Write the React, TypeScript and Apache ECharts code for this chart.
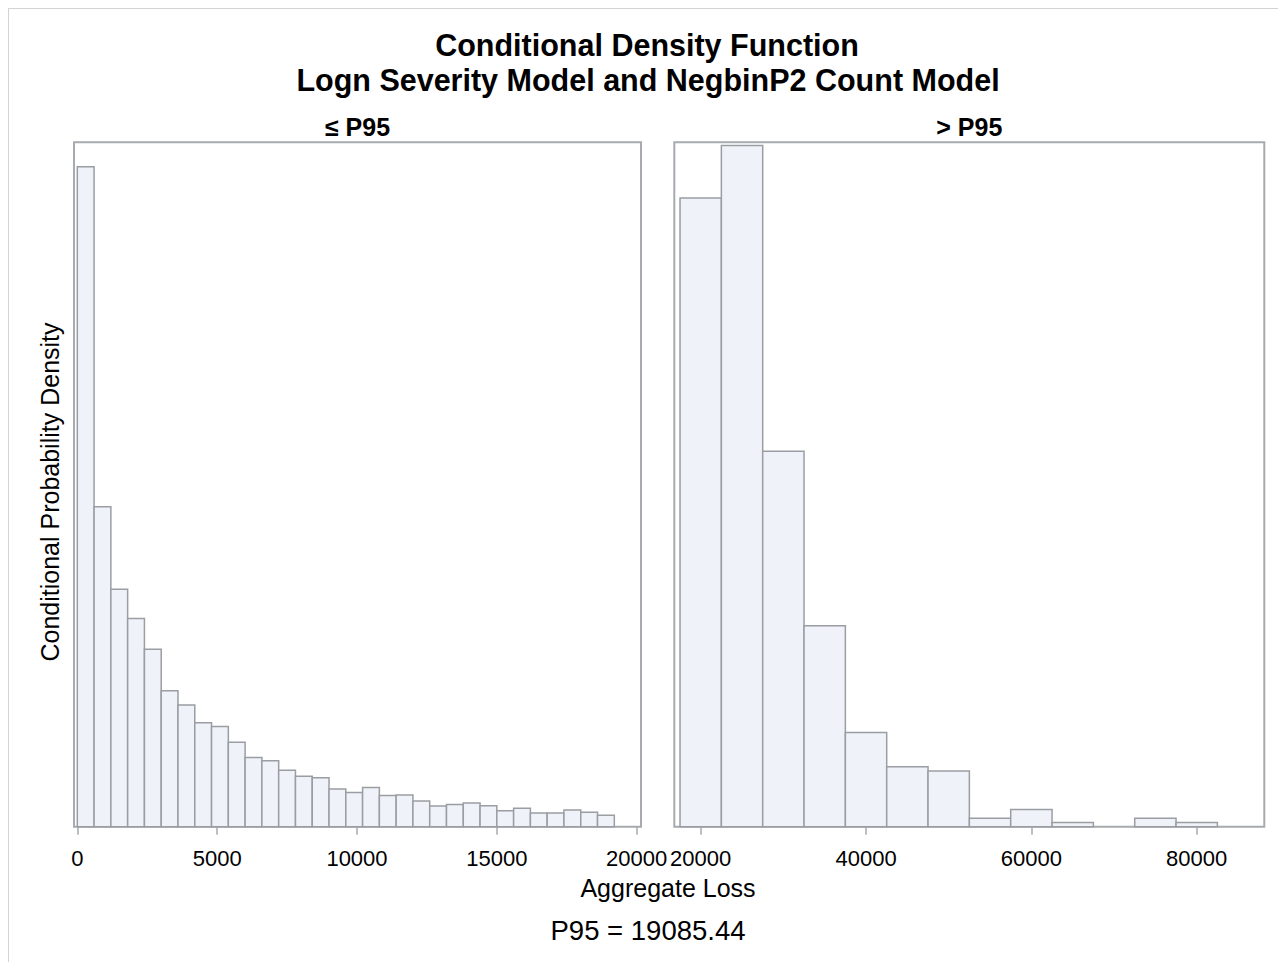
import React, { useEffect, useRef } from "react";
import * as echarts from "echarts";

// ≤ P95 panel: histogram bin midpoints (bin width 600) and conditional density (×1e-6)
const leftBinWidth = 600;
const leftMidpoints = [
  300, 900, 1500, 2100, 2700, 3300, 3900, 4500, 5100, 5700, 6300, 6900, 7500, 8100, 8700, 9300,
  9900, 10500, 11100, 11700, 12300, 12900, 13500, 14100, 14700, 15300, 15900, 16500, 17100, 17700,
  18300, 18900,
];
const leftDensity = [
  388.4, 188.3, 139.7, 122.6, 104.4, 80.0, 71.6, 61.2, 58.9, 49.7, 40.8, 38.8, 33.2, 29.7, 28.8,
  22.2, 20.2, 23.0, 18.4, 18.7, 15.1, 12.2, 13.1, 13.9, 12.4, 9.4, 10.8, 8.1, 8.1, 9.8, 8.5, 6.7,
];

// > P95 panel: histogram bin midpoints (bin width 5000) and conditional density (×1e-6)
const rightBinWidth = 5000;
const rightMidpoints = [
  20000, 25000, 30000, 35000, 40000, 45000, 50000, 55000, 60000, 65000, 70000, 75000, 80000,
];
const rightDensity = [58.8, 63.7, 35.1, 18.8, 8.8, 5.6, 5.2, 0.8, 1.6, 0.4, 0, 0.8, 0.4];

const leftTicks = [0, 5000, 10000, 15000, 20000];
const rightTicks = [20000, 40000, 60000, 80000];

const titleLine1 = "Conditional Density Function";
const titleLine2 = "Logn Severity Model and NegbinP2 Count Model";
const leftHeader = "≤ P95";
const rightHeader = "> P95";
const xTitle = "Aggregate Loss";
const yTitle = "Conditional Probability Density";
const footnote = "P95 = 19085.44";

const FONT = "Liberation Sans, Arial, Helvetica, sans-serif";
const FILL = "#eff3f9";
const BAR_STROKE = "#9a9ea3";
const FRAME = "#a7aaae";

function histData(mids: number[], width: number, vals: number[]) {
  return mids.map((m, i) => [m - width / 2, m + width / 2, vals[i]]);
}

function renderBar(params: any, api: any) {
  const x0 = api.value(0);
  const x1 = api.value(1);
  const y = api.value(2);
  const p0 = api.coord([x0, y]);
  const p1 = api.coord([x1, 0]);
  if (y <= 0) return null;
  return {
    type: "rect",
    shape: { x: p0[0], y: p0[1], width: p1[0] - p0[0], height: p1[1] - p0[1] },
    style: { fill: FILL, stroke: BAR_STROKE, lineWidth: 1.5 },
  };
}

export default function App() {
  const ref = useRef<HTMLDivElement>(null);
  useEffect(() => {
    if (!ref.current) return;
    const chart = echarts.init(ref.current, null, { renderer: "svg" });
    const axisCommon = {
      type: "value" as const,
      axisLine: { show: false },
      splitLine: { show: false },
      axisTick: { show: true, length: 8, lineStyle: { color: FRAME, width: 1.5 } },
      axisLabel: { color: "#000", fontSize: 22, fontFamily: FONT, margin: 21 },
    };
    chart.setOption({
      animation: false,
      backgroundColor: "#fff",
      grid: [
        { left: 66, top: 134.3, width: 567, height: 684.4, show: true, borderColor: FRAME, borderWidth: 2, backgroundColor: "transparent" },
        { left: 666.3, top: 134.3, width: 590, height: 684.4, show: true, borderColor: FRAME, borderWidth: 2, backgroundColor: "transparent" },
      ],
      xAxis: [
        {
          ...axisCommon,
          gridIndex: 0,
          min: -118,
          max: 20154,
          axisTick: { ...axisCommon.axisTick, customValues: leftTicks },
          axisLabel: { ...axisCommon.axisLabel, customValues: leftTicks, formatter: (v: number) => String(v) },
        },
        {
          ...axisCommon,
          gridIndex: 1,
          min: 16807,
          max: 88175,
          axisTick: { ...axisCommon.axisTick, customValues: rightTicks },
          axisLabel: { ...axisCommon.axisLabel, customValues: rightTicks, formatter: (v: number) => String(v) },
        },
      ],
      yAxis: [
        { type: "value", gridIndex: 0, min: 0, max: 402.8, show: false },
        { type: "value", gridIndex: 1, min: 0, max: 64.0, show: false },
      ],
      series: [
        {
          type: "custom",
          xAxisIndex: 0,
          yAxisIndex: 0,
          renderItem: renderBar,
          encode: { x: [0, 1], y: 2 },
          data: histData(leftMidpoints, leftBinWidth, leftDensity),
        },
        {
          type: "custom",
          xAxisIndex: 1,
          yAxisIndex: 1,
          renderItem: renderBar,
          encode: { x: [0, 1], y: 2 },
          data: histData(rightMidpoints, rightBinWidth, rightDensity),
        },
      ],
      graphic: [
        {
          type: "rect",
          silent: true,
          shape: { x: 0, y: 0, width: 1500, height: 1200 },
          style: { fill: "none", stroke: "#d3d3d3", lineWidth: 2 },
        },
        {
          type: "text",
          x: 639,
          y: 37,
          style: { text: titleLine1, font: `bold 30.5px ${FONT}`, fill: "#000", textAlign: "center", textVerticalAlign: "middle" },
        },
        {
          type: "text",
          x: 640,
          y: 72,
          style: { text: titleLine2, font: `bold 30.5px ${FONT}`, fill: "#000", textAlign: "center", textVerticalAlign: "middle" },
        },
        {
          type: "text",
          x: 349.5,
          y: 119,
          style: { text: leftHeader, font: `bold 25px ${FONT}`, fill: "#000", textAlign: "center", textVerticalAlign: "middle" },
        },
        {
          type: "text",
          x: 961.3,
          y: 119,
          style: { text: rightHeader, font: `bold 25px ${FONT}`, fill: "#000", textAlign: "center", textVerticalAlign: "middle" },
        },
        {
          type: "text",
          x: 660,
          y: 880,
          style: { text: xTitle, font: `25px ${FONT}`, fill: "#000", textAlign: "center", textVerticalAlign: "middle" },
        },
        {
          type: "text",
          x: 640,
          y: 922,
          style: { text: footnote, font: `27.5px ${FONT}`, fill: "#000", textAlign: "center", textVerticalAlign: "middle" },
        },
        {
          type: "text",
          x: 42,
          y: 484,
          rotation: Math.PI / 2,
          style: { text: yTitle, font: `25px ${FONT}`, fill: "#000", textAlign: "center", textVerticalAlign: "middle" },
        },
      ],
    });
    return () => chart.dispose();
  }, []);
  return <div ref={ref} style={{ width: 1278, height: 954 }} />;
}
